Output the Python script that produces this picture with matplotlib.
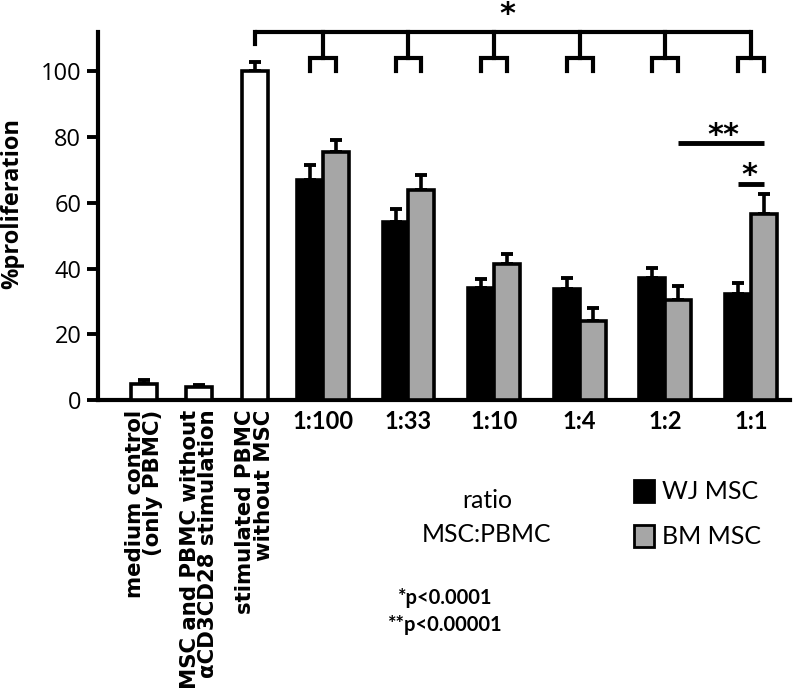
import matplotlib
matplotlib.use("Agg")
import matplotlib.pyplot as plt
from matplotlib.patches import Patch
import numpy as np

# ---- data ----
single_labels = ["medium control\n(only PBMC)",
                 "MSC and PBMC without\n\u03b1CD3CD28 stimulation",
                 "stimulated PBMC\nwithout MSC"]
single_values = [5.0, 4.0, 100.0]
single_err = [1.0, 0.5, 3.0]

ratios = ["1:100", "1:33", "1:10", "1:4", "1:2", "1:1"]
wj_values = [67.0, 54.2, 34.2, 33.8, 37.2, 32.2]
wj_err = [4.6, 4.0, 2.5, 3.2, 3.0, 3.5]
bm_values = [75.5, 63.8, 41.5, 24.0, 30.4, 56.7]
bm_err = [3.5, 4.6, 2.9, 3.9, 4.3, 6.0]

series_names = ["WJ MSC", "BM MSC"]
yticks = [0, 20, 40, 60, 80, 100]

# ---- layout ----
W, H = 795, 689
fig = plt.figure(figsize=(W / 100, H / 100), dpi=100)
ax = fig.add_axes([98 / W, 1 - 400 / H, (790 - 98) / W, (400 - 32) / H])

single_x = np.array([1.70, 3.74, 5.80])
group_x = 8.33 + 3.17 * np.arange(len(ratios))
bw = 0.96
off = 0.48
grey = "#a6a6a6"
lw = 2.6

ax.bar(single_x, single_values, width=bw, color="white", edgecolor="black", linewidth=lw, zorder=3)
ax.bar(group_x - off, wj_values, width=bw, color="black", edgecolor="black", linewidth=lw, zorder=3)
ax.bar(group_x + off, bm_values, width=bw, color=grey, edgecolor="black", linewidth=lw, zorder=3)

ekw = dict(fmt="none", ecolor="black", elinewidth=2.6, capsize=4.5, capthick=2.8, zorder=2)
ax.errorbar(single_x, single_values, yerr=[np.zeros(3), single_err], **ekw)
ax.errorbar(group_x - off, wj_values, yerr=[np.zeros(6), wj_err], **ekw)
ax.errorbar(group_x + off, bm_values, yerr=[np.zeros(6), bm_err], **ekw)

ax.set_xlim(0, 25.63)
ax.set_ylim(0, 112)
ax.set_yticks(yticks)
ax.set_yticklabels([str(v) for v in yticks], fontsize=17, family="Open Sans")
ax.tick_params(axis="y", length=8, width=2.8, direction="out", pad=4)

for s in ["top", "right"]:
    ax.spines[s].set_visible(False)
for s in ["left", "bottom"]:
    ax.spines[s].set_linewidth(3)

# x labels
ax.set_xticks(list(single_x) + list(group_x))
labels = single_labels + ratios
ax.set_xticklabels(labels)
ax.tick_params(axis="x", length=0, pad=7)
for i, t in enumerate(ax.get_xticklabels()):
    if i < 3:
        t.set_rotation(90)
        t.set_va("top")
        t.set_ha("center")
        t.set_multialignment("right")
        t.set_fontsize(15.3)
        t.set_fontweight("bold")
        t.set_family("DejaVu Sans")
        t.set_linespacing(0.92)
    else:
        t.set_fontsize(17)
        t.set_fontweight("bold")
        t.set_family("Lato")

ax.set_ylabel("%proliferation", fontsize=17, fontweight="bold", family="Open Sans")
ax.yaxis.label.set_va("center")
ax.yaxis.set_label_coords(-0.124, 0.535)

# significance brackets
blw = 3
top_y, drop_y, tick_y = 111.9, 104.0, 100.2
ax.plot([single_x[2], group_x[-1]], [top_y, top_y], color="black", lw=blw, clip_on=False, solid_capstyle="butt")
ax.plot([single_x[2], single_x[2]], [top_y, 108.5], color="black", lw=blw, clip_on=False)
for gx in group_x:
    ax.plot([gx, gx], [top_y, drop_y], color="black", lw=blw, clip_on=False)
    ax.plot([gx - off, gx - off, gx + off, gx + off], [tick_y, drop_y, drop_y, tick_y],
            color="black", lw=blw, clip_on=False, solid_joinstyle="miter")
fig.text(507 / W, 1.0, "*", ha="center", va="top", fontsize=22, fontweight="bold")

ax.plot([group_x[4] + off, group_x[5] + off], [78.2, 78.2], color="black", lw=3.5, solid_capstyle="butt")
ax.text(23.15, 76.1, "**", ha="center", va="bottom", fontsize=22, fontweight="bold")
ax.plot([group_x[5] - off, group_x[5] + off], [65.7, 65.7], color="black", lw=3.5, solid_capstyle="butt")
ax.text(24.11, 63.9, "*", ha="center", va="bottom", fontsize=22, fontweight="bold")

# annotations below axis
fig.text(487 / W, 1 - 500 / H, "ratio", ha="center", va="center", fontsize=17.8, family="Lato")
fig.text(487 / W, 1 - 534 / H, "MSC:PBMC", ha="center", va="center", fontsize=17.8, family="Lato")
fig.text(444 / W, 1 - 598 / H, "*p<0.0001", ha="center", va="center", fontsize=14.5, family="Lato", fontweight="bold")
fig.text(444 / W, 1 - 625 / H, "**p<0.00001", ha="center", va="center", fontsize=14.5, family="Lato", fontweight="bold")

handles = [Patch(facecolor="black", edgecolor="black", linewidth=2),
           Patch(facecolor=grey, edgecolor="black", linewidth=2)]
leg = fig.legend(handles, series_names, loc="center left", bbox_to_anchor=(634 / W, 1 - 514 / H),
                 frameon=False, handlelength=0.8, handleheight=1.0,
                 handletextpad=0.3, labelspacing=0.85, borderpad=0, borderaxespad=0,
                 prop={"family": "Lato", "size": 18})

fig.savefig("out.png", dpi=100)
